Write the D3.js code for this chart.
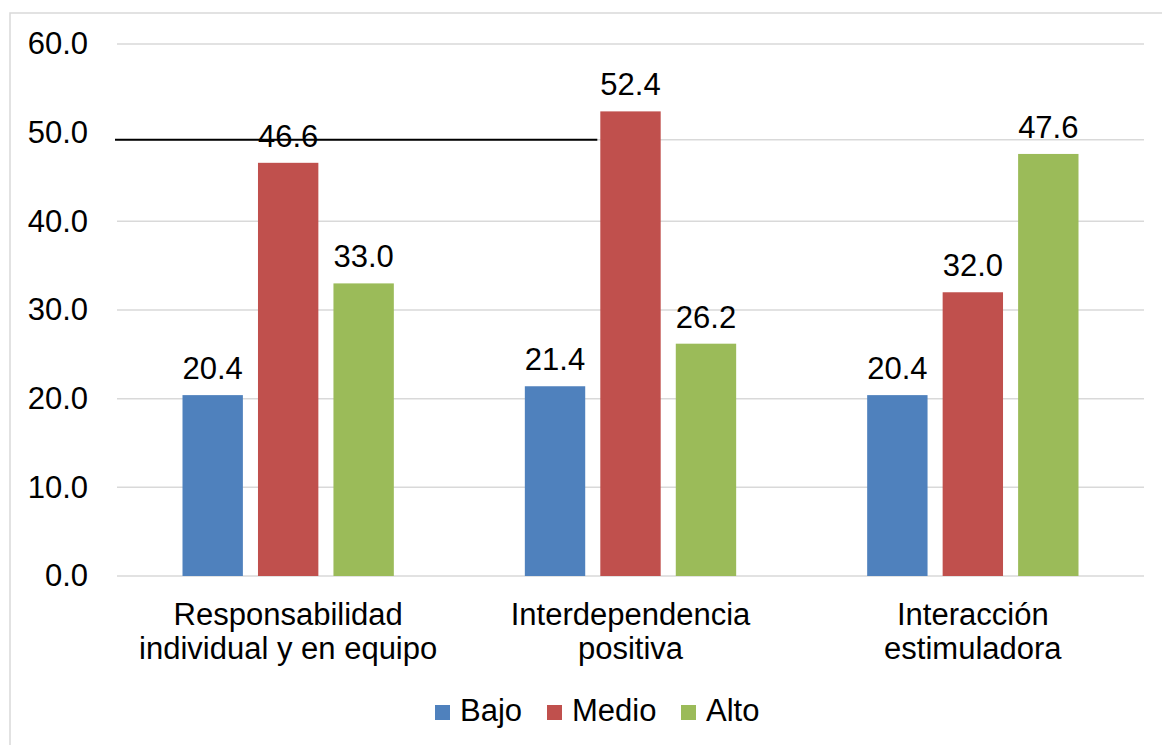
<!DOCTYPE html>
<html>
<head>
<meta charset="utf-8">
<script src="https://cdn.jsdelivr.net/npm/d3@7"></script>
<style>
  body { margin: 0; background: #fff; }
  text { font-family: "Liberation Sans", Arial, sans-serif; fill: #000; }
</style>
</head>
<body>
<div id="chart"></div>
<script>
// data
var categories = [
  ["Responsabilidad", "individual y en equipo"],
  ["Interdependencia", "positiva"],
  ["Interacción", "estimuladora"]
];
var seriesNames = ["Bajo", "Medio", "Alto"];
var bajo = [20.4, 21.4, 20.4];
var medio = [46.6, 52.4, 32.0];
var alto = [33.0, 26.2, 47.6];
var yTicks = [0, 10, 20, 30, 40, 50, 60];
var colors = ["#4F81BD", "#C0504D", "#9BBB59"];

var svgWidth = 1162, svgHeight = 745;
var margin = { top: 44, right: 18, bottom: 169, left: 117 };
var width = svgWidth - margin.left - margin.right;
var height = svgHeight - margin.top - margin.bottom;

var svg = d3.select("#chart").append("svg")
  .attr("width", svgWidth)
  .attr("height", svgHeight);

// outer chart border (runs off the right/bottom edge)
svg.append("rect")
  .attr("x", 10).attr("y", 13)
  .attr("width", 1175).attr("height", 760)
  .attr("fill", "none")
  .attr("stroke", "#d9d9d9")
  .attr("stroke-width", 1.5);

var g = svg.append("g")
  .attr("transform", `translate(${margin.left}, ${margin.top})`);

var y = d3.scaleLinear().domain([0, 60]).range([height, 0]);
var catKeys = categories.map(c => c.join(" "));
var x0 = d3.scaleBand().domain(catKeys).range([0, width]);
var pad = 65.5;
var x1 = d3.scaleBand().domain(seriesNames)
  .range([pad, x0.bandwidth() - pad]).paddingInner(0.2);

// gridlines (the 50 line sits a little low in the original)
var shiftedLevel = 49.2;
yTicks.forEach(function(t) {
  if (t === 50) return;
  g.append("line")
    .attr("x1", 0).attr("x2", width)
    .attr("y1", y(t)).attr("y2", y(t))
    .attr("stroke", "#d9d9d9").attr("stroke-width", 1.5);
});
g.append("line")
  .attr("x1", 0).attr("x2", width)
  .attr("y1", y(shiftedLevel)).attr("y2", y(shiftedLevel))
  .attr("stroke", "#d9d9d9").attr("stroke-width", 1.5);

// y axis labels
var yAxis = d3.axisLeft(y).tickValues(yTicks).tickFormat(d3.format(".1f"))
  .tickSize(0).tickPadding(29);
var yAxisG = g.append("g").call(yAxis);
yAxisG.select(".domain").remove();
yAxisG.selectAll("text")
  .attr("font-size", "31px")
  .attr("font-family", "Liberation Sans, Arial, sans-serif")
  .attr("fill", "#000");

// bars
var rows = [];
catKeys.forEach(function(c, i) {
  [bajo, medio, alto].forEach(function(arr, j) {
    rows.push({ cat: c, series: seriesNames[j], value: arr[i], color: colors[j] });
  });
});

g.selectAll("rect.bar")
  .data(rows)
  .enter()
  .append("rect")
  .attr("class", "bar")
  .attr("x", d => x0(d.cat) + x1(d.series))
  .attr("y", d => y(d.value))
  .attr("width", x1.bandwidth())
  .attr("height", d => height - y(d.value))
  .attr("fill", d => d.color);

// black overlay line across the left half
g.append("line")
  .attr("x1", -2).attr("x2", x0(catKeys[1]) + x1("Medio") - 3)
  .attr("y1", y(shiftedLevel)).attr("y2", y(shiftedLevel))
  .attr("stroke", "#000").attr("stroke-width", 2);

// value labels
g.selectAll("text.val")
  .data(rows)
  .enter()
  .append("text")
  .attr("class", "val")
  .attr("text-anchor", "middle")
  .attr("x", d => x0(d.cat) + x1(d.series) + x1.bandwidth() / 2)
  .attr("y", d => y(d.value) - 16)
  .attr("font-size", "31px")
  .text(d => d.value.toFixed(1));

// category labels
categories.forEach(function(lines, i) {
  var t = g.append("text")
    .attr("text-anchor", "middle")
    .attr("x", x0(catKeys[i]) + x0.bandwidth() / 2)
    .attr("y", height + 49)
    .attr("font-size", "31px");
  lines.forEach(function(l, k) {
    t.append("tspan")
      .attr("x", x0(catKeys[i]) + x0.bandwidth() / 2)
      .attr("dy", k === 0 ? 0 : 34)
      .text(l);
  });
});

// legend
var legendX = [435, 547, 681];
var legend = svg.append("g");
seriesNames.forEach(function(s, i) {
  legend.append("rect")
    .attr("x", legendX[i]).attr("y", 705)
    .attr("width", 15).attr("height", 15)
    .attr("fill", colors[i]);
  legend.append("text")
    .attr("x", legendX[i] + 25).attr("y", 721)
    .attr("font-size", "31px")
    .text(s);
});
</script>
</body>
</html>
